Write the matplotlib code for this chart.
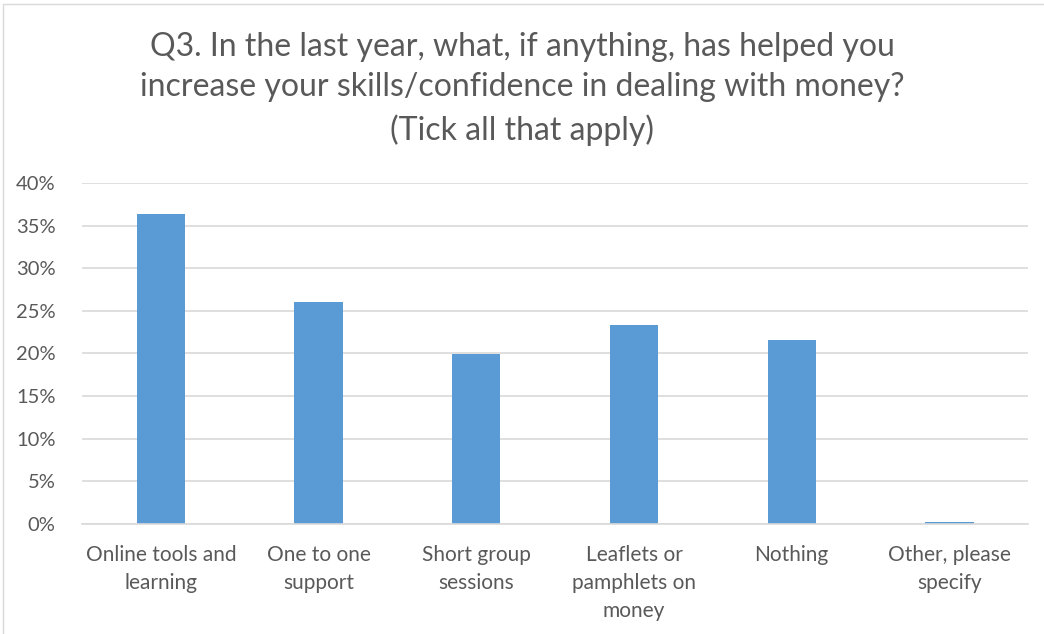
import matplotlib
matplotlib.use("Agg")
import matplotlib.pyplot as plt
from matplotlib.ticker import FuncFormatter
from matplotlib.patches import Rectangle

categories = ["Online tools and\nlearning", "One to one\nsupport", "Short group\nsessions",
              "Leaflets or\npamphlets on\nmoney", "Nothing", "Other, please\nspecify"]
values = [36.4, 26.0, 19.9, 23.3, 21.6, 0.2]
yticks = [0, 5, 10, 15, 20, 25, 30, 35, 40]

title = ("Q3. In the last year, what, if anything, has helped you\n"
         "increase your skills/confidence in dealing with money?\n"
         "(Tick all that apply)")

plt.rcParams['font.family'] = ['Lato', 'DejaVu Sans']
text_color = '#595959'

fig = plt.figure(figsize=(10.44, 6.34), dpi=100)
ax = fig.add_axes([0.0785, 0.1735, 0.9065, 0.538])

# chart border
fig.patches.append(Rectangle((0.003, -0.01), 1.01, 1.003, transform=fig.transFigure,
                             fill=False, edgecolor='#D9D9D9', linewidth=1))

x = range(len(categories))
ax.bar(x, values, width=0.305, color='#5B9BD5', zorder=2)

ax.set_xlim(-0.5, len(categories) - 0.5)
ax.set_ylim(0, 40)
ax.set_yticks(yticks)
ax.yaxis.set_major_formatter(FuncFormatter(lambda v, pos: f"{v:.0f}%"))
ax.set_xticks(list(x))
ax.set_xticklabels(categories, fontsize=15, color=text_color, linespacing=1.5)
ax.tick_params(axis='y', labelsize=14.5, labelcolor=text_color, length=0, pad=19)
ax.tick_params(axis='x', length=0, pad=15)
ax.grid(axis='y', color='#D9D9D9', linewidth=1.2, zorder=0)
for side in ['top', 'right', 'left']:
    ax.spines[side].set_visible(False)
ax.spines['bottom'].set_color('#D9D9D9')
ax.spines['bottom'].set_linewidth(1.2)

fig.text(0.5, 0.95, title, ha='center', va='top', fontsize=23, color=text_color,
         linespacing=1.45)

fig.savefig("out.png", dpi=100)
